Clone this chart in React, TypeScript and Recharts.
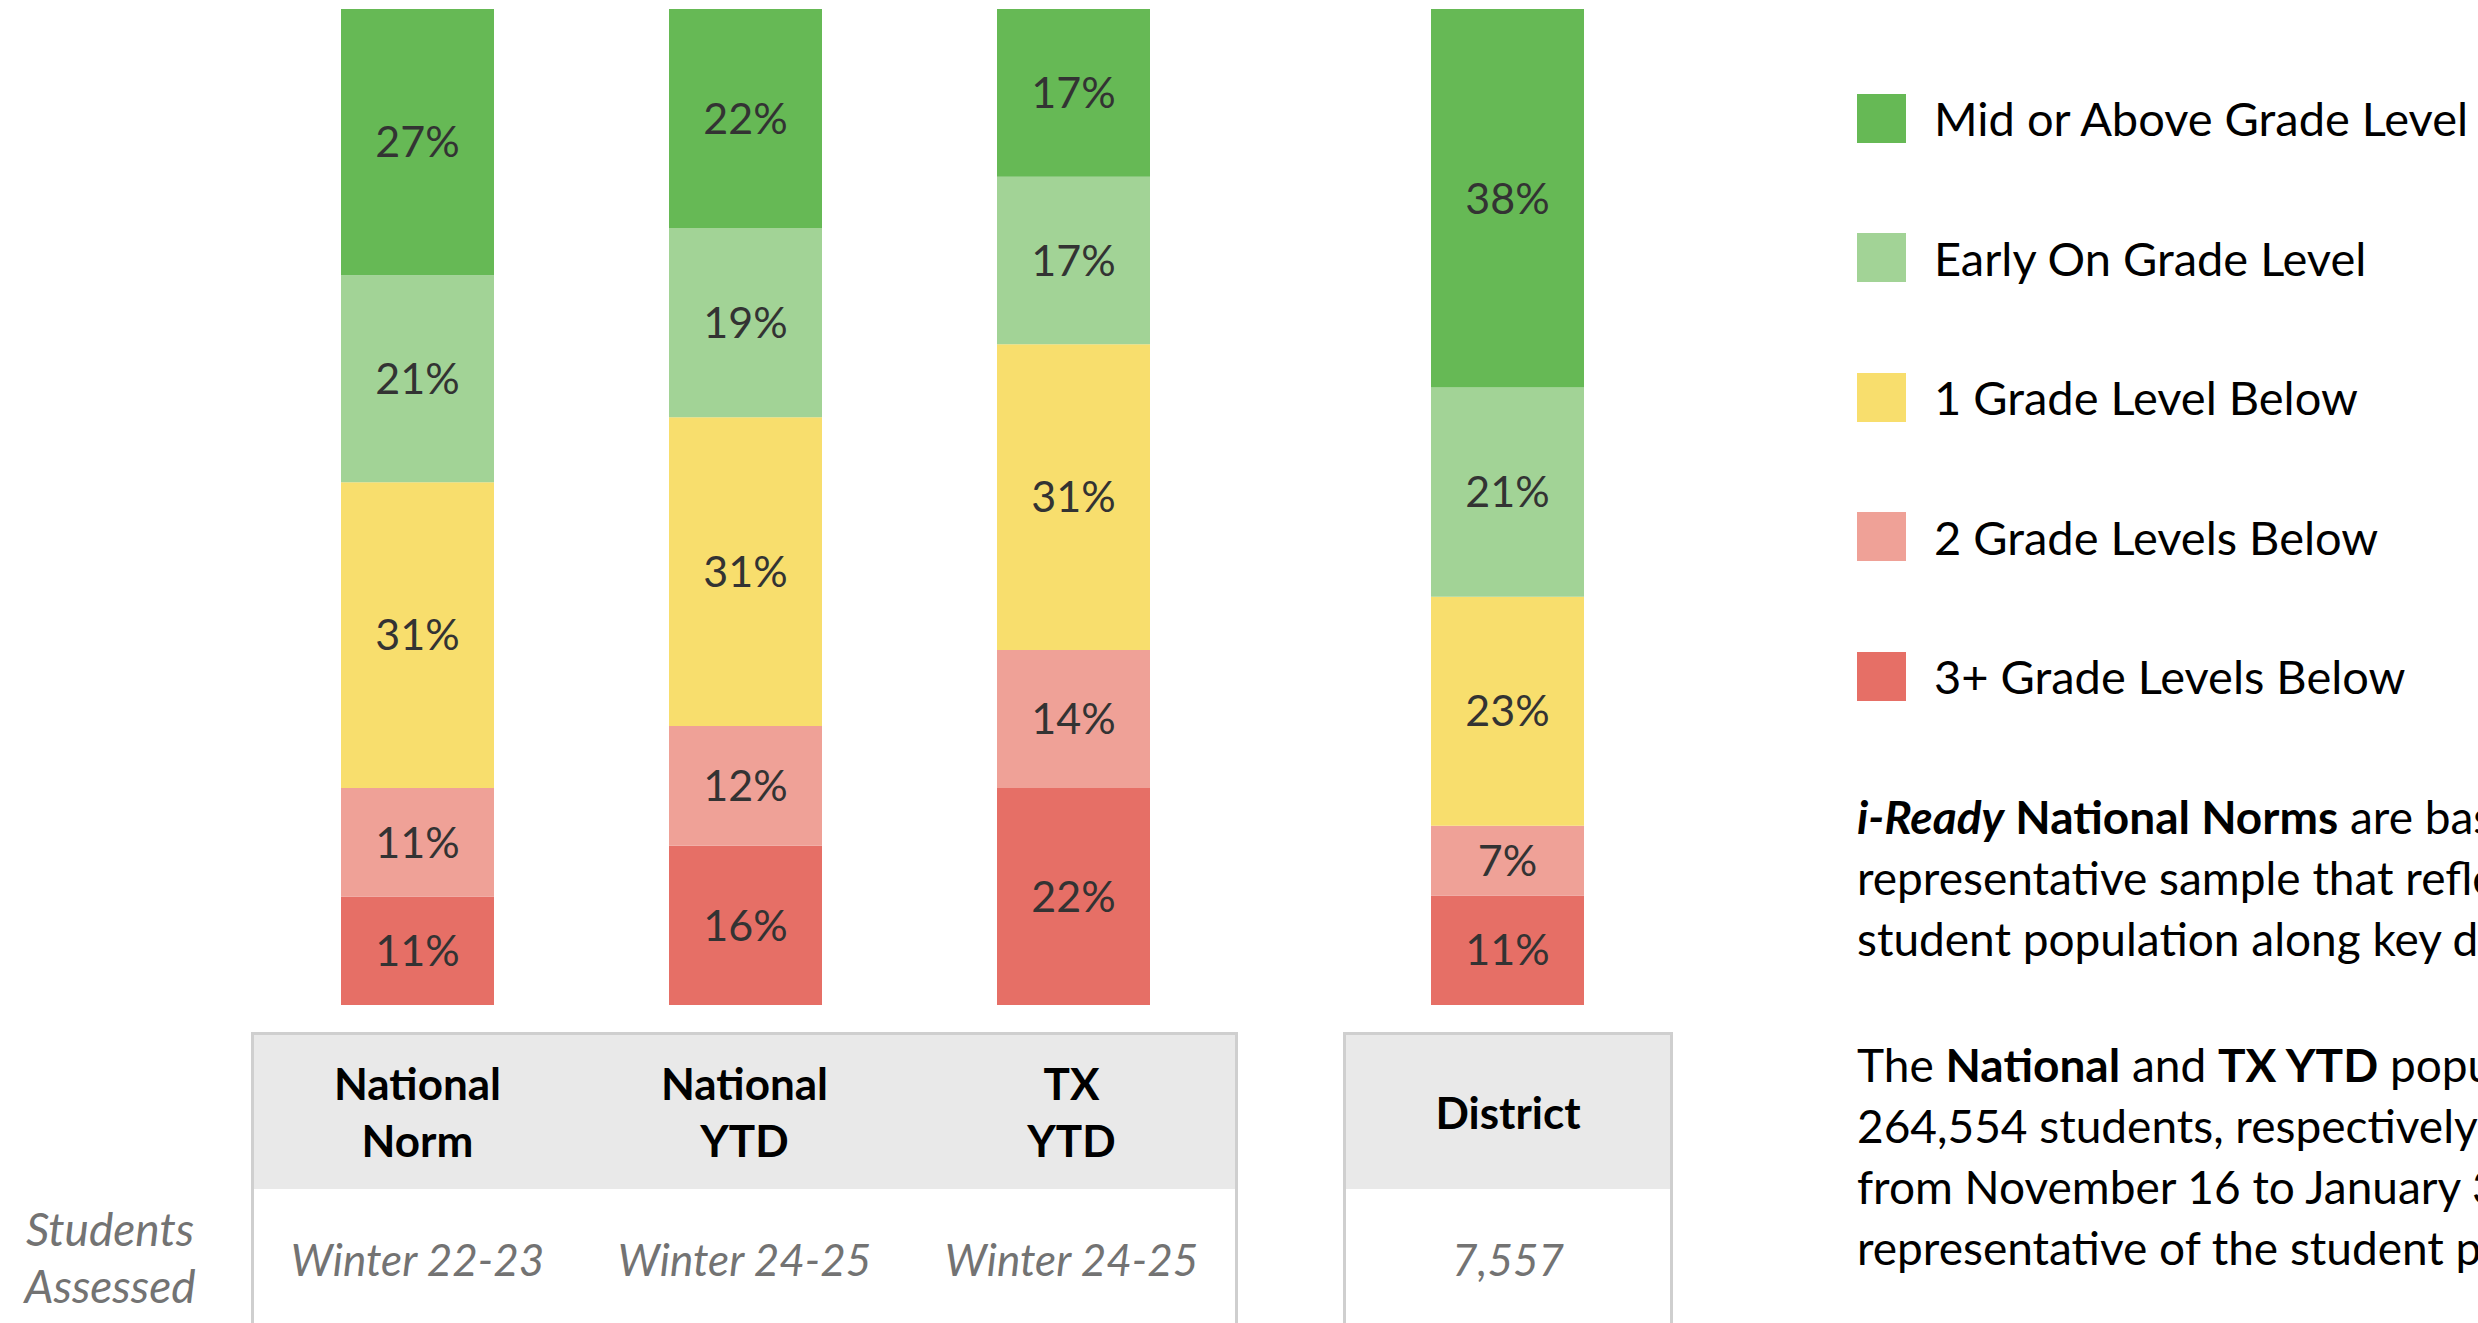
import React from 'react';
import { BarChart, Bar, XAxis, YAxis, LabelList } from 'recharts';

// columns of the chart
const categories = ['National Norm', 'National YTD', 'TX YTD', 'District'];
const headerLines = [['National', 'Norm'], ['National', 'YTD'], ['TX', 'YTD'], ['District']];
const assessed = ['Winter 22-23', 'Winter 24-25', 'Winter 24-25', '7,557'];

// percent of students per placement level
const midOrAbove = [27, 22, 17, 38];
const earlyOn = [21, 19, 17, 21];
const oneBelow = [31, 31, 31, 23];
const twoBelow = [11, 12, 14, 7];
const threeBelow = [11, 16, 22, 11];

// stacking order: bottom first
const series = [
  { key: 'threeBelow', label: '3+ Grade Levels Below', color: '#E66F66', values: threeBelow },
  { key: 'twoBelow', label: '2 Grade Levels Below', color: '#EFA197', values: twoBelow },
  { key: 'oneBelow', label: '1 Grade Level Below', color: '#F8DE6D', values: oneBelow },
  { key: 'earlyOn', label: 'Early On Grade Level', color: '#A2D396', values: earlyOn },
  { key: 'midOrAbove', label: 'Mid or Above Grade Level', color: '#66B955', values: midOrAbove },
];

const FONT = 'Lato, "Open Sans", sans-serif';

const rows = categories.map((name, i) => {
  const row: Record<string, string | number> = { name };
  series.forEach(s => { row[s.key] = s.values[i]; });
  return row;
});

function Stack({ data, width }: { data: Record<string, string | number>[]; width: number }) {
  return (
    <BarChart width={width} height={1010} data={data} stackOffset="expand" margin={{ top: 9, right: 0, bottom: 5, left: 0 }}>
      <XAxis dataKey="name" hide />
      <YAxis hide domain={[0, 1]} />
      {series.map(s => (
        <Bar key={s.key} dataKey={s.key} stackId="a" fill={s.color} barSize={153} isAnimationActive={false}>
          <LabelList dataKey={s.key} position="center" formatter={(v: any) => `${v}%`}
            style={{ fill: '#333', fontSize: 43, fontFamily: FONT }} />
        </Bar>
      ))}
    </BarChart>
  );
}

function TableBox({ idx, left, width }: { idx: number[]; left: number; width: number }) {
  return (
    <div style={{ position: 'absolute', left, top: 1032, width, height: 320, border: '3px solid #cfcfcf', boxSizing: 'border-box', display: 'flex', flexDirection: 'column' }}>
      <div style={{ height: 154, background: '#e9e9e9', display: 'flex' }}>
        {idx.map(i => (
          <div key={i} style={{ flex: 1, display: 'flex', flexDirection: 'column', justifyContent: 'center', alignItems: 'center', fontWeight: 700, fontSize: 44, lineHeight: '57px', color: '#000' }}>
            {headerLines[i].map(l => <div key={l}>{l}</div>)}
          </div>
        ))}
      </div>
      <div style={{ display: 'flex', height: 140 }}>
        {idx.map(i => (
          <div key={i} style={{ flex: 1, textAlign: 'center', fontStyle: 'italic', fontSize: 44, color: '#737373', paddingTop: 44 }}>
            {assessed[i]}
          </div>
        ))}
      </div>
    </div>
  );
}

const para1 = [
  [{ t: 'i-Ready', b: true, i: true }, { t: ' National Norms', b: true }, { t: ' are based on a nationally' }],
  [{ t: 'representative sample that reflects the U.S.' }],
  [{ t: 'student population along key demographics.' }],
];
const para2 = [
  [{ t: 'The ' }, { t: 'National', b: true }, { t: ' and ' }, { t: 'TX YTD', b: true }, { t: ' populations include' }],
  [{ t: '264,554 students, respectively, assessed' }],
  [{ t: 'from November 16 to January 31 and are' }],
  [{ t: 'representative of the student population.' }],
];

function Para({ lines, top }: { lines: { t: string; b?: boolean; i?: boolean }[][]; top: number }) {
  return (
    <div style={{ position: 'absolute', left: 1857, top, fontSize: 46, lineHeight: '61px', color: '#000', whiteSpace: 'nowrap' }}>
      {lines.map((ln, k) => (
        <div key={k}>
          {ln.map((p, j) => <span key={j} style={{ fontWeight: p.b ? 700 : 400, fontStyle: p.i ? 'italic' : 'normal' }}>{p.t}</span>)}
        </div>
      ))}
    </div>
  );
}

export default function App() {
  const legendItems = [...series].reverse();
  return (
    <div style={{ position: 'fixed', left: 0, top: 0, width: 2478, height: 1323, overflow: 'hidden', background: '#fff', fontFamily: FONT }}>
      <div style={{ position: 'absolute', left: 253, top: 0 }}>
        <Stack data={rows.slice(0, 3)} width={984} />
      </div>
      <div style={{ position: 'absolute', left: 1343, top: 0 }}>
        <Stack data={rows.slice(3)} width={329} />
      </div>

      <TableBox idx={[0, 1, 2]} left={251} width={987} />
      <TableBox idx={[3]} left={1343} width={330} />

      <div style={{ position: 'absolute', left: 8, top: 1200, width: 204, textAlign: 'center', fontStyle: 'italic', fontSize: 46, lineHeight: '57px', color: '#737373' }}>
        <div>Students</div>
        <div>Assessed</div>
      </div>

      {legendItems.map((s, k) => (
        <div key={s.key} style={{ position: 'absolute', left: 1857, top: 118 + k * 139.5 - 25, height: 50, display: 'flex', alignItems: 'center', whiteSpace: 'nowrap' }}>
          <div style={{ width: 49, height: 49, background: s.color }} />
          <div style={{ marginLeft: 28, fontSize: 47, color: '#000' }}>{s.label}</div>
        </div>
      ))}

      <Para lines={para1} top={786} />
      <Para lines={para2} top={1034} />
    </div>
  );
}
